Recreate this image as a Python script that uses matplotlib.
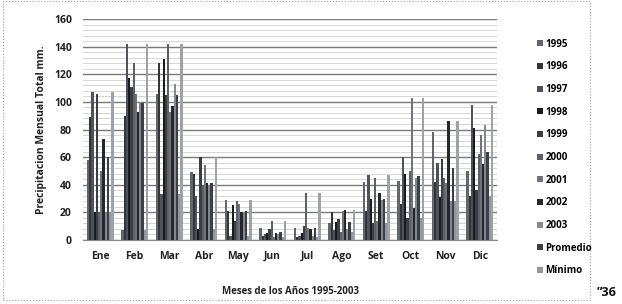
import matplotlib
matplotlib.use('Agg')
import matplotlib.pyplot as plt
import numpy as np
from matplotlib.patches import Rectangle, Patch

plt.rcParams['font.family'] = ['Open Sans', 'DejaVu Sans']

meses = ['Ene', 'Feb', 'Mar', 'Abr', 'May', 'Jun', 'Jul', 'Ago', 'Set', 'Oct', 'Nov', 'Dic']

y1995 = [58, 7, 106, 49, 29, 9, 9, 12, 42, 43, 78, 50]
y1996 = [89, 90, 128, 48, 21, 3, 2, 20, 21, 26, 42, 32]
y1997 = [107, 142, 33, 32, 3, 4, 3, 7, 47, 60, 56, 98]
y1998 = [20, 117, 131, 8, 25, 5, 5, 13, 30, 48, 31, 81]
y1999 = [106, 111, 105, 60, 14, 8, 10, 15, 12, 16, 59, 36]
y2000 = [20, 128, 142, 40, 28, 14, 34, 6, 45, 50, 45, 62]
y2001 = [50, 106, 93, 54, 26, 2, 9, 21, 14, 103, 41, 76]
y2002 = [73, 93, 97, 41, 20, 5, 8, 22, 34, 23, 86, 55]
y2003 = [20, 100, 113, 40, 20, 4, 3, 8, 29, 45, 28, 83]
promedio = [60, 99, 105, 41, 21, 6, 9, 13, 30, 46, 52, 64]
minimo = [20, 7, 33, 8, 3, 2, 2, 6, 12, 16, 28, 32]
maximo = [107, 142, 142, 60, 29, 14, 34, 22, 47, 103, 86, 98]

series = [y1995, y1996, y1997, y1998, y1999, y2000, y2001, y2002, y2003,
          promedio, minimo, maximo]
nombres = ['1995', '1996', '1997', '1998', '1999', '2000', '2001', '2002', '2003',
           'Promedio', 'Mínimo', 'Máximo']
colores = ['#63656c', '#343539', '#505259', '#1a1b1e', '#3d3e44', '#5e6067',
           '#71737a', '#26272b', '#858790', '#3e3f45', '#9597a0', '#9fa1a8']

fig = plt.figure(figsize=(6.22, 3.04), dpi=100)
fig.patch.set_facecolor('white')
ax = fig.add_axes([83/622, 1-240/304, (497-83)/622, (240-19)/304])

x = np.arange(len(meses))
n = len(series)
w = 0.78 / n
for i, (s, c) in enumerate(zip(series, colores)):
    ax.bar(x - 0.39 + w*(i+0.5), s, width=w, color=c, zorder=3, lw=0)

ax.set_xlim(-0.5, 11.5)
ax.set_ylim(0, 160)
ax.set_yticks(range(0, 161, 20))
ax.set_yticks(range(0, 161, 4), minor=True)
ax.grid(axis='y', which='major', color='#7a7a7a', lw=1.0, zorder=0)
ax.grid(axis='y', which='minor', color='#d0d0d0', lw=0.6, zorder=0)
for sp in ['top', 'right', 'left']:
    ax.spines[sp].set_visible(False)
ax.spines['bottom'].set_color('#8a8a8a')
ax.set_xticks(x)
ax.set_xticklabels(meses, fontsize=7.5, fontweight='bold', color='#222222')
ax.tick_params(axis='both', length=0, pad=8)
ax.tick_params(axis='y', which='minor', length=0)
for t in ax.get_yticklabels():
    t.set_fontsize(7.5)
    t.set_fontweight('bold')
    t.set_color('#222222')

ax.set_ylabel('Precipitacion Mensual Total mm.', fontsize=7.5, fontweight='bold',
              color='#222222', labelpad=5)
fig.text(290/622, 1-292/304, 'Meses de los Años 1995-2003', ha='center', va='center',
         fontsize=7, fontweight='bold', color='#222222')

handles = [Patch(facecolor=c, label=l) for c, l in zip(colores[:11], nombres[:11])]
fig.legend(handles=handles, loc='upper left', bbox_to_anchor=(528/622, 1-30/304),
           frameon=False, handlelength=0.6, handleheight=0.6,
           handletextpad=0.3, labelspacing=1.2, prop={'weight': 'bold', 'size': 7})

fig.patches.append(Rectangle((3/622, 1-300/304), (590-3)/622, 299/304,
                             transform=fig.transFigure, fill=False,
                             edgecolor='#9a9a9a', lw=0.8, ls=':'))
fig.text(597/622, 1-293/304, '\u201d36', ha='left', va='center', fontsize=9,
         fontweight='bold', color='#111111')

fig.savefig('out.png', dpi=100)
